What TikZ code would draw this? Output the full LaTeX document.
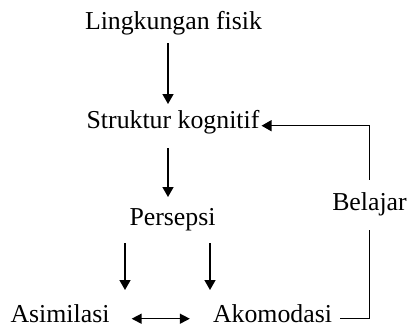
\documentclass[tikz,border=0pt]{standalone}
\usepackage{fontspec}
\setmainfont{Liberation Serif}
\usetikzlibrary{arrows.meta,calc}
\begin{document}
\begin{tikzpicture}[x=1pt,y=-1pt,
  lbl/.style={anchor=base,inner sep=0pt,font=\fontsize{25.8}{30}\selectfont},
  conn/.style={line width=1.5pt},
  arr/.style={conn,-{Triangle[length=10pt,width=11pt]}},
  darr/.style={conn,{Triangle[length=10pt,width=10pt]}-{Triangle[length=10pt,width=10pt]}}]
\useasboundingbox (0,0) rectangle (409,327);
\node[lbl] (ling) at (173.5,29) {Lingkungan fisik};
\node[lbl] (struk) at (173,128) {Struktur kognitif};
\node[lbl] (pers) at (172.5,225) {Persepsi};
\node[lbl] (asim) at (60,322) {Asimilasi};
\node[lbl] (akom) at (272.5,322) {Akomodasi};
\node[lbl] (bel) at (369.5,210) {Belajar};
% vertical arrows
\coordinate (l1) at (168,43);
\coordinate (s1) at (168,104);
\draw[arr] (l1) -- (s1);
\coordinate (s2) at (168,148);
\coordinate (p1) at (168,197);
\draw[arr] (s2) -- (p1);
\coordinate (pl) at (125,243);
\coordinate (al) at (125,290);
\draw[arr] (pl) -- (al);
\coordinate (pr) at (210,243);
\coordinate (ar) at (210,290);
\draw[arr] (pr) -- (ar);
% double arrow
\draw[darr] ([xshift=22pt,yshift=1pt]asim.mid east) -- ([xshift=-23pt,yshift=1pt]akom.mid west);
% feedback loop
\draw[conn] ([xshift=8pt,yshift=1pt]akom.mid east) -| ([yshift=-14pt]bel.south);
\draw[arr] ([yshift=12pt]bel.north) |- ([xshift=2pt]struk.mid east);
\end{tikzpicture}
\end{document}
